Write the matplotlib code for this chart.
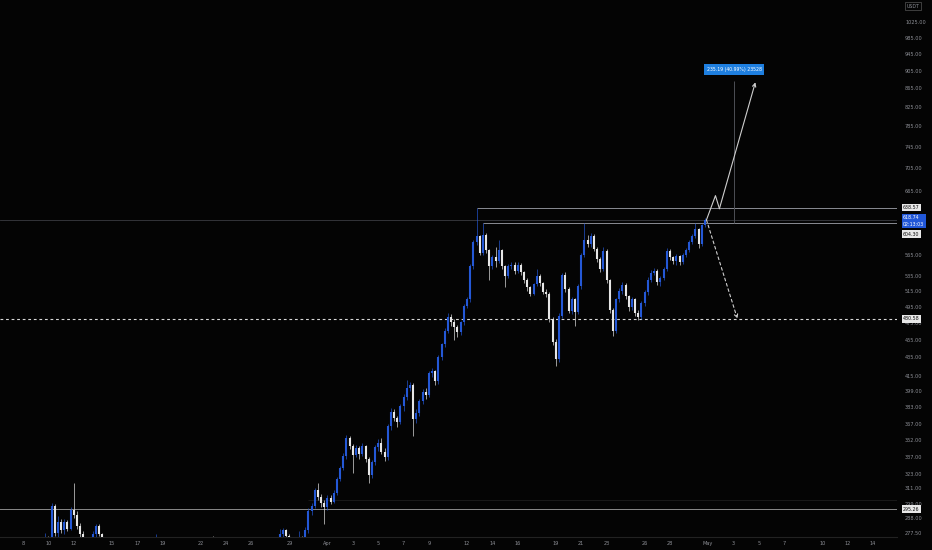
import matplotlib
matplotlib.use('Agg')
import matplotlib.pyplot as plt
import matplotlib.dates as mdates
import matplotlib.transforms as mtransforms
import pandas as pd
from datetime import datetime

# ---- candle data (6h candles, BNB/USDT style chart) ----
# first visible stretch, 9-14 March
seg_a_start = '2021-03-09 18:00'
seg_a_open = 268
seg_a_close = [272, 270, 298, 278, 286, 280, 286, 281, 295, 291, 283, 277, 272, 266, 268, 277, 283, 277, 270]
seg_a_high = [278, 276, 300, 299, 290, 288, 288, 287, 297, 316, 294, 285, 279, 274, 270, 279, 284, 284, 278]
seg_a_low = [262, 266, 268, 276, 274, 278, 277, 279, 280, 289, 281, 275, 268, 262, 260, 266, 274, 276, 268]

# single wicks poking into view while price sat below the scale
poke_times = ['2021-03-18 12:00', '2021-03-23 00:00']
poke_open = [268, 266]
poke_close = [270, 264]
poke_high = [277, 276]
poke_low = [262, 260]

# main stretch, 28 March - 30 April
seg_b_start = '2021-03-28 06:00'
seg_b_open = 272
seg_b_close = [277, 280, 276, 270, 267, 271, 274, 272, 280, 294,
               298, 310, 305, 300, 297, 304, 301, 308, 319, 328,
               338, 354, 347, 339, 345, 340, 347, 336, 322, 333,
               346, 350, 342, 337, 365, 379, 373, 369, 384, 393,
               403, 406, 372, 378, 389, 398, 395, 418, 420, 410,
               436, 450, 466, 483, 477, 470, 464, 476, 497, 505,
               550, 584, 593, 569, 596, 573, 550, 562, 557, 573,
               550, 536, 550, 552, 543, 552, 541, 531, 521, 512,
               525, 536, 526, 515, 512, 480, 453, 434, 484, 537,
               518, 490, 505, 489, 522, 565, 588, 581, 594, 575,
               560, 545, 572, 530, 492, 466, 505, 516, 524, 509,
               495, 505, 488, 483, 500, 514, 531, 540, 543, 528,
               533, 545, 572, 562, 557, 564, 555, 566, 573, 584,
               594, 604, 581, 610, 618.74]
seg_b_high = [281, 281.5, 281, 277, 272, 275, 279, 276, 282, 296,
              300, 312, 316, 307, 302, 306, 306, 310, 321, 330,
              341, 357, 356, 349, 348, 347, 350, 348, 337, 335,
              348, 353, 354, 345, 367, 382, 381, 375, 386, 396,
              411, 409, 408, 381, 391, 401, 403, 420, 424, 422,
              438, 452, 469, 487, 486, 480, 473, 478, 499, 508,
              553, 587, 638.57, 596, 614, 599, 575, 566, 577, 588,
              575, 552, 553, 556, 555, 555, 554, 543, 533, 523,
              527, 546, 539, 528, 518, 514, 483, 456, 487, 540,
              541, 521, 508, 507, 525, 568, 614, 596, 598, 597,
              578, 563, 578, 575, 532, 494, 507, 520, 528, 527,
              511, 508, 507, 491, 503, 517, 534, 544, 547, 545,
              536, 548, 576, 574, 564, 567, 566, 568, 576, 587,
              597, 614, 606, 612, 622]
seg_b_low = [268, 274, 272, 266, 262, 264, 268, 266, 270, 278,
             291, 296, 302, 297, 284, 295, 299, 300, 306, 317,
             326, 336, 344, 324, 337, 336, 338, 333, 316, 320,
             331, 343, 340, 334, 335, 362, 370, 364, 367, 380,
             390, 399, 356, 368, 375, 386, 391, 393, 414, 406,
             407, 432, 447, 463, 472, 455, 459, 461, 473, 494,
             502, 546, 580, 565, 566, 568, 531, 546, 548, 554,
             546, 521, 533, 546, 539, 540, 537, 527, 516, 509,
             510, 522, 523, 512, 508, 477, 449, 426, 430, 481,
             515, 487, 486, 472, 486, 519, 562, 577, 578, 571,
             556, 541, 543, 526, 487, 460, 463, 502, 512, 505,
             490, 491, 484, 479, 480, 497, 511, 528, 537, 524,
             522, 530, 543, 558, 553, 552, 551, 553, 563, 570,
             581, 591, 576, 579, 607]

# levels and drawings
ath_level = 638.57
second_top = 614.0
last_price = 618.74
support_level = 480.58
base_level = 295.26
marked_level = 604.30
proj_up_dates = ['2021-04-30 21:00', '2021-05-01 14:00', '2021-05-01 21:30', '2021-05-04 17:30']
proj_up_prices = [618.74, 658.3, 636.8, 879.6]
proj_down_dates = ['2021-04-30 21:00', '2021-05-03 07:30']
proj_down_prices = [618.74, 480.58]
range_date = '2021-05-03 01:30'
range_prices = [614.0, 882.0]
range_label = '235.19 (40.99%) 23528'
countdown = '02:13:03'

price_ticks = [1025, 985, 945, 905, 865, 825, 785, 745, 705, 665, 565, 535, 515,
               495, 475, 455, 435, 415, 399, 383, 367, 352, 337, 323, 311, 299, 288, 277.5]
date_ticks = ['2021-03-08', '2021-03-10', '2021-03-12', '2021-03-15', '2021-03-17', '2021-03-19',
              '2021-03-22', '2021-03-24', '2021-03-26', '2021-03-29', '2021-04-01', '2021-04-03',
              '2021-04-05', '2021-04-07', '2021-04-09', '2021-04-12', '2021-04-14', '2021-04-16',
              '2021-04-19', '2021-04-21', '2021-04-23', '2021-04-26', '2021-04-28', '2021-05-01',
              '2021-05-03', '2021-05-05', '2021-05-07', '2021-05-10', '2021-05-12', '2021-05-14']
date_labels = ['8', '10', '12', '15', '17', '19', '22', '24', '26', '29', 'Apr', '3',
               '5', '7', '9', '12', '14', '16', '19', '21', '23', '26', '28', 'May',
               '3', '5', '7', '10', '12', '14']

BG = '#040404'
UP = '#2458d6'
DOWN = '#e6e6e6'
AXIS_TXT = '#8d8f96'
LINE = '#8a8c93'

W, H = 932, 550
fig = plt.figure(figsize=(W / 100, H / 100), dpi=100)
fig.patch.set_facecolor(BG)
ax = fig.add_axes([0, 13 / H, 897 / W, 537 / H])
ax.set_facecolor(BG)
ax.set_yscale('log')
ax.set_ylim(275.0, 1085.6)
x0 = mdates.date2num(datetime(2021, 3, 6)) + 0.19
ax.set_xlim(x0, x0 + 897 / 12.687)
for s in ax.spines.values():
    s.set_visible(False)
ax.set_xticks([])
ax.set_yticks([])
ax.yaxis.set_minor_locator(matplotlib.ticker.NullLocator())


def tnum(s):
    return mdates.date2num(pd.Timestamp(s).to_pydatetime())


def draw_candles(times, opens, closes, highs, lows):
    xs = [mdates.date2num(t.to_pydatetime()) for t in times]
    for up, col in ((True, UP), (False, DOWN)):
        sel = [i for i in range(len(xs)) if (closes[i] >= opens[i]) == up]
        if not sel:
            continue
        ax.vlines([xs[i] for i in sel], [lows[i] for i in sel], [highs[i] for i in sel],
                  color=col, lw=0.55, alpha=0.85, zorder=3)
        bot = [min(opens[i], closes[i]) for i in sel]
        top = [max(max(opens[i], closes[i]), min(opens[i], closes[i]) * 1.003) for i in sel]
        ax.vlines([xs[i] for i in sel], bot, top, color=col, lw=1.5, zorder=4)


ta = pd.date_range(seg_a_start, periods=len(seg_a_close), freq='6h')
draw_candles(ta, [seg_a_open] + seg_a_close[:-1], seg_a_close, seg_a_high, seg_a_low)
draw_candles(pd.to_datetime(poke_times), poke_open, poke_close, poke_high, poke_low)
tb = pd.date_range(seg_b_start, periods=len(seg_b_close), freq='6h')
draw_candles(tb, [seg_b_open] + seg_b_close[:-1], seg_b_close, seg_b_high, seg_b_low)

xmax = ax.get_xlim()[1]
# horizontal levels
ath_i = seg_b_high.index(ath_level)
ax.hlines(ath_level, mdates.date2num(tb[ath_i].to_pydatetime()), xmax, color=LINE, lw=0.7, zorder=2)
top2_i = seg_b_high.index(614)
ax.hlines(second_top, mdates.date2num(tb[top2_i].to_pydatetime()), xmax, color=LINE, lw=0.7, zorder=2)
ax.axhline(last_price, color='#3a3c42', lw=0.6, zorder=1)
ax.axhline(support_level, color='#d8d8d8', lw=0.8, ls=(0, (2.5, 2.5)), zorder=2)
ax.axhline(base_level, color='#8a8a8a', lw=0.7, zorder=2)
ax.hlines(302, tnum('2021-03-30 12:00'), xmax, color='#1c1c1c', lw=0.6, zorder=1)

# projection drawings
pu = [tnum(d) for d in proj_up_dates]
ax.plot(pu[:-1], proj_up_prices[:-1], color='#cfcfcf', lw=0.8, zorder=5)
ax.annotate('', xy=(pu[-1], proj_up_prices[-1]), xytext=(pu[-2], proj_up_prices[-2]),
            arrowprops=dict(arrowstyle='->', color='#cfcfcf', lw=0.8, shrinkA=0, shrinkB=0,
                            mutation_scale=6), zorder=5)
pd_ = [tnum(d) for d in proj_down_dates]
ax.annotate('', xy=(pd_[1], proj_down_prices[1]), xytext=(pd_[0], proj_down_prices[0]),
            arrowprops=dict(arrowstyle='->', color='#cfcfcf', lw=0.8, ls=(0, (2.5, 2.5)),
                            shrinkA=0, shrinkB=0, mutation_scale=6), zorder=5)
rx = tnum(range_date)
ax.vlines(rx, range_prices[0], range_prices[1], color='#4d4f55', lw=0.7, zorder=2)
ax.text(rx, 909, range_label, color='white', fontsize=3.3, ha='center', va='center', zorder=6,
        bbox=dict(boxstyle='square,pad=0.6', fc='#1e7fe0', ec='none'))

# time axis
ax.axhline(275.0, color='#222222', lw=0.8, clip_on=False)
bt = mtransforms.blended_transform_factory(ax.transData, ax.transAxes)
for d, lab in zip(date_ticks, date_labels):
    ax.text(tnum(d), -0.012, lab, transform=bt, color=AXIS_TXT, fontsize=3.6,
            ha='center', va='center', clip_on=False)

# price axis
rt = mtransforms.blended_transform_factory(fig.transFigure, ax.transData)
for p in price_ticks:
    ax.text(905 / W, p, f'{p:.2f}', transform=rt, color=AXIS_TXT, fontsize=3.6,
            ha='left', va='center', clip_on=False)
for p, y_at in ((ath_level, ath_level), (marked_level, 596.5),
                (support_level, support_level), (base_level, base_level)):
    ax.text(903 / W, y_at, f'{p:.2f}', transform=rt, color='#111111', fontsize=3.4, ha='left',
            va='center', clip_on=False, zorder=7,
            bbox=dict(boxstyle='square,pad=0.3', fc='#e8e8e8', ec='none'))
ax.text(903 / W, 626, f'{last_price:.2f}\n{countdown}', transform=rt, color='white',
        fontsize=3.4, ha='left', va='top', clip_on=False, zorder=7, linespacing=1.35,
        bbox=dict(boxstyle='square,pad=0.3', fc='#2157d8', ec='none'))
fig.text(913 / W, 1 - 6 / H, 'USDT', color=AXIS_TXT, fontsize=3.4, ha='center', va='center',
         bbox=dict(boxstyle='square,pad=0.3', fc=BG, ec='#555555', lw=0.5))

fig.savefig('out.png', dpi=100, facecolor=BG)
